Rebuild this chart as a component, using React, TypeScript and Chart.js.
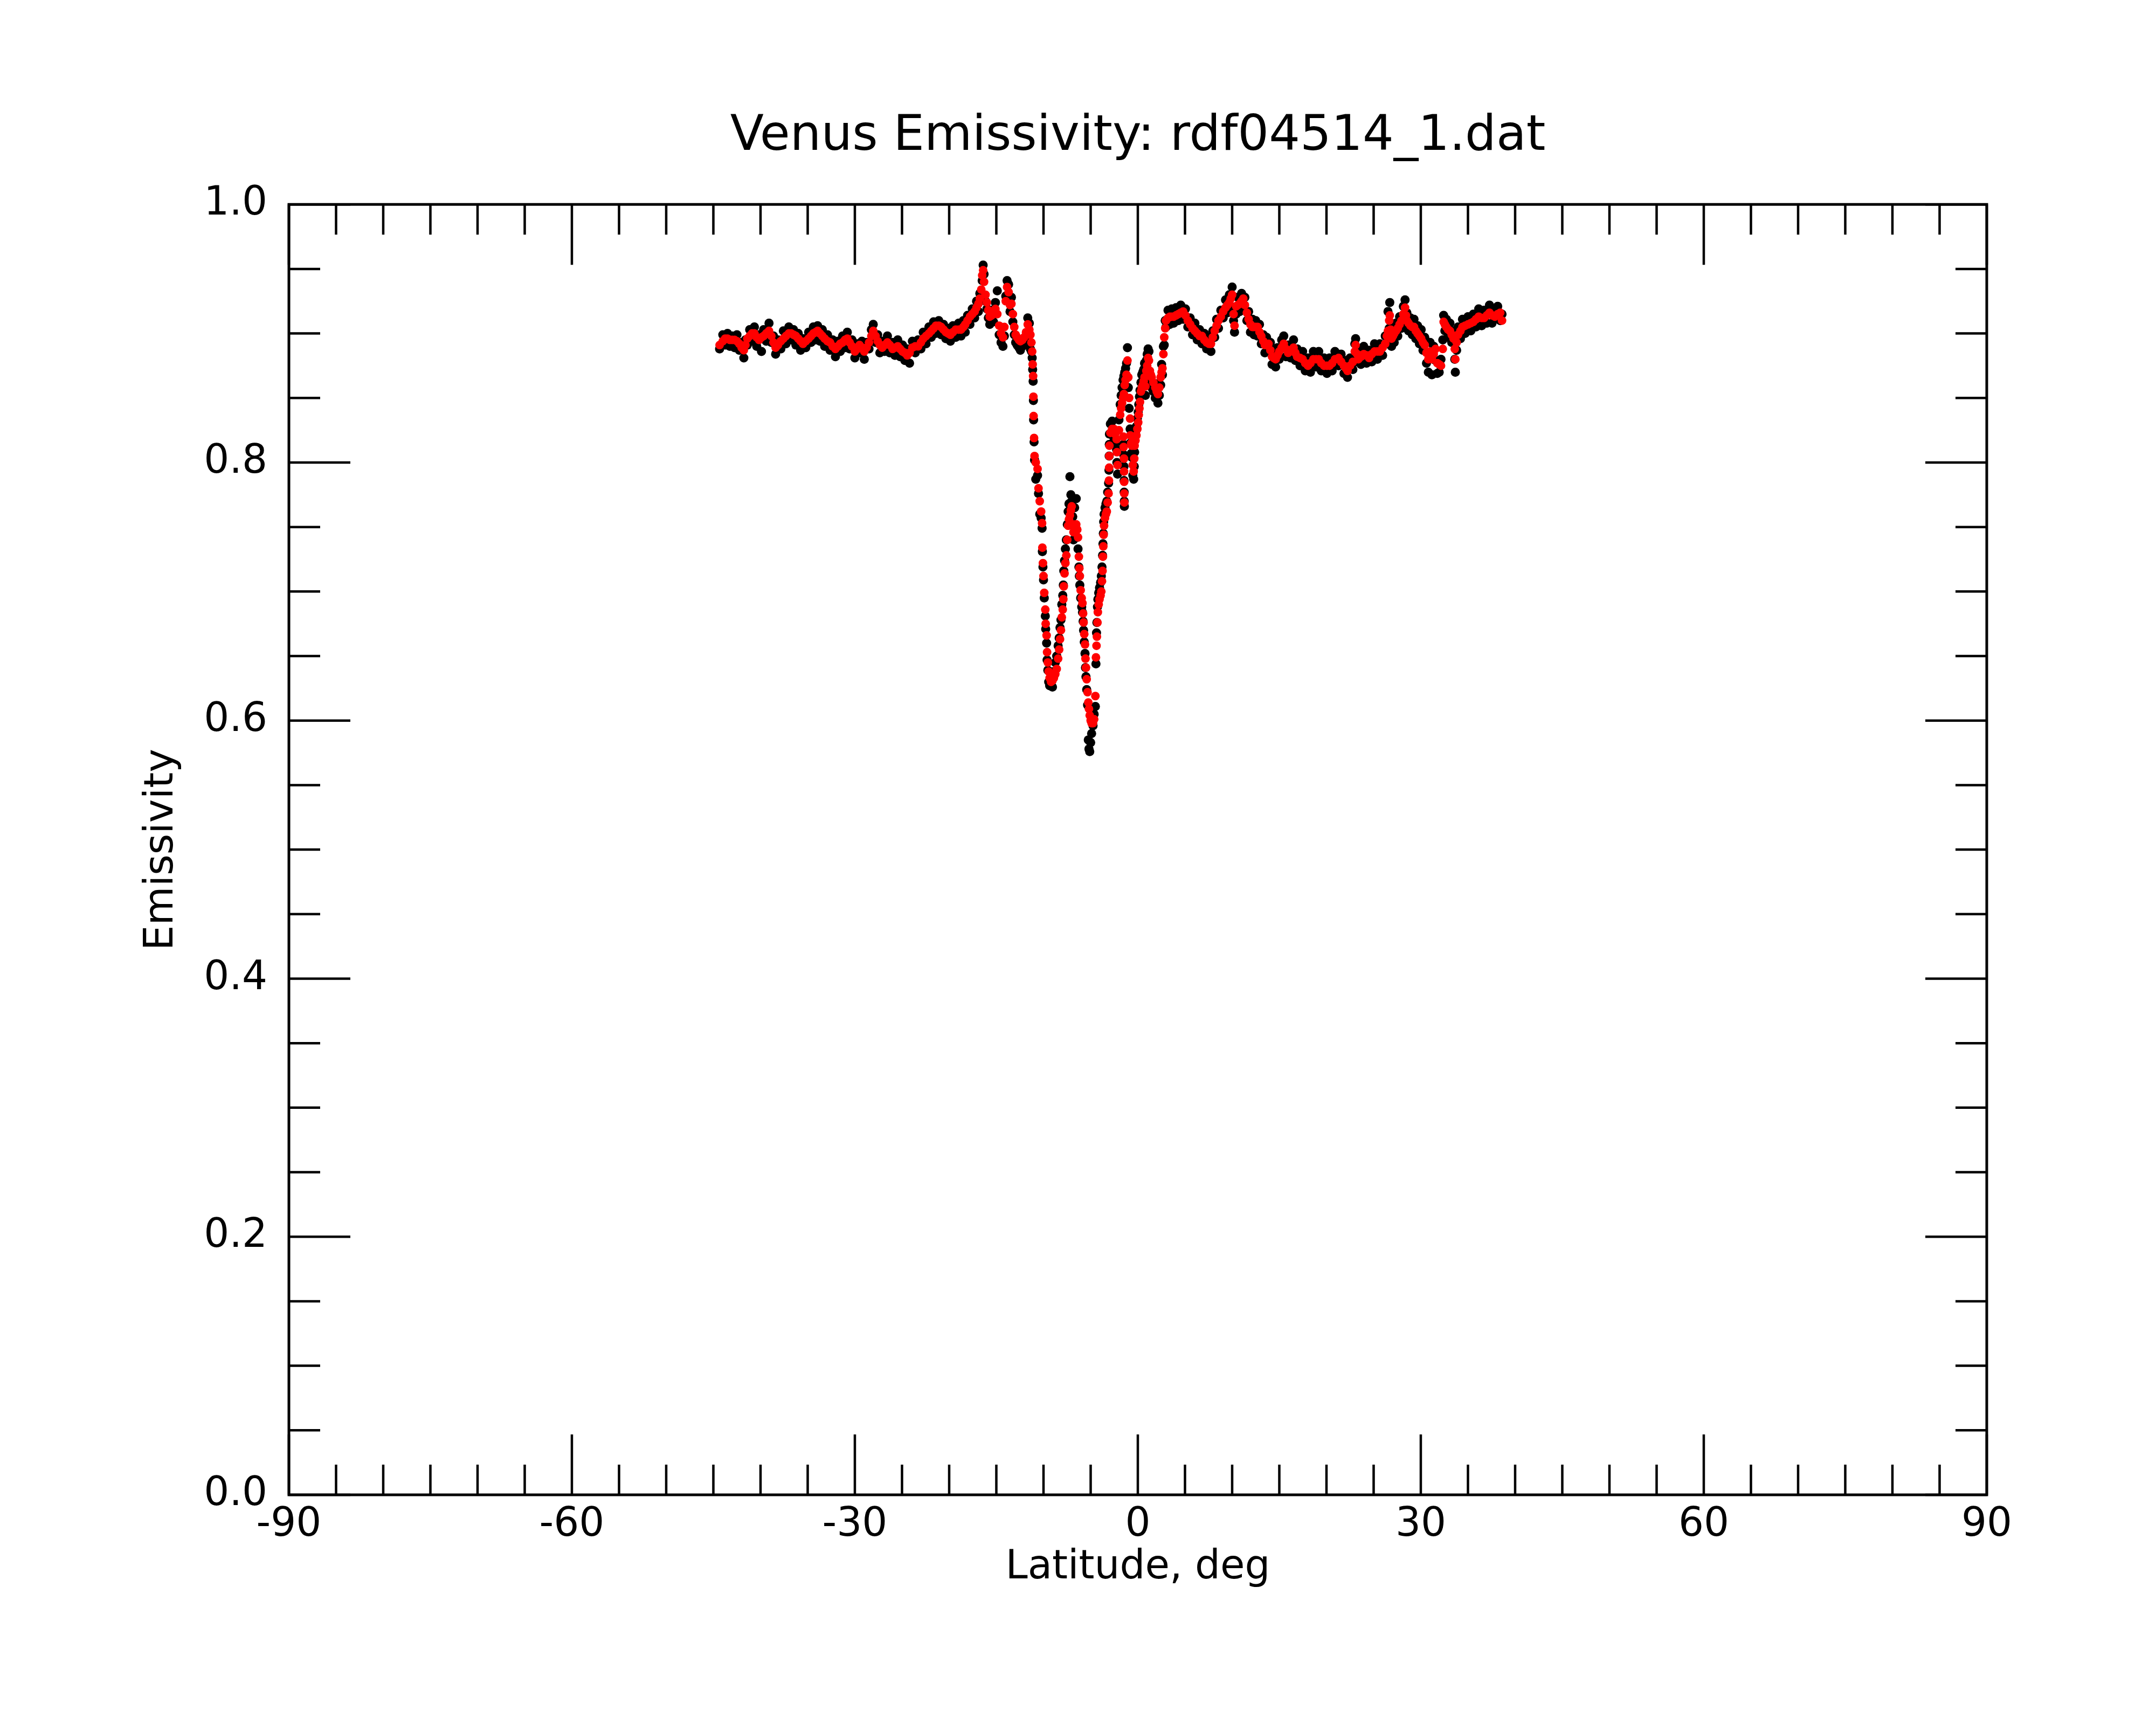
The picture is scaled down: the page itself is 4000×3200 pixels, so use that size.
import React, { useEffect, useRef } from 'react';
import { Chart, registerables } from 'chart.js';

Chart.register(...registerables);

// Latitude (deg) and emissivity, split in three stretches.
// "red" is the smoothed track, "black" the raw samples drawn underneath it.
const southLat = [
    -44.34, -44.0, -43.75, -43.5, -43.25, -43.0, -42.75, -42.5, -42.25, -42.0,
    -41.77, -41.6, -41.4, -41.15, -40.9, -40.65, -40.4, -40.15, -39.9, -39.67,
    -39.4, -39.1, -38.85, -38.63, -38.4, -38.15, -37.85, -37.58, -37.3, -37.0,
    -36.75, -36.5, -36.25, -36.0, -35.75, -35.5, -35.2, -34.9, -34.65, -34.4,
    -34.15, -33.95, -33.7, -33.45, -33.2, -32.9, -32.63, -32.35, -32.06, -31.8,
    -31.55, -31.3, -31.05, -30.8, -30.55, -30.3, -30.0, -29.75, -29.5, -29.25,
    -29.0, -28.75, -28.5, -28.25, -28.05, -27.8, -27.58, -27.35, -27.1, -26.85,
    -26.55, -26.3, -26.0, -25.75, -25.45, -25.2, -24.95, -24.7, -24.45, -24.2,
    -23.9, -23.6, -23.3, -23.0, -22.75, -22.45, -22.15, -21.9, -21.65, -21.4,
    -21.1, -20.85, -20.6, -20.35, -20.1, -19.87, -19.6, -19.3, -19.0, -18.75,
    -18.5, -18.3, -18.05, -17.8, -17.55, -17.3, -17.1, -16.9, -16.75, -16.6,
    -16.5, -16.4, -16.3, -16.15, -16.0, -15.85, -15.7, -15.5, -15.3, -15.1,
    -14.9, -14.7, -14.5, -14.3, -14.15, -14.0, -13.86, -13.7, -13.55, -13.4,
    -13.25, -13.1, -12.95, -12.8, -12.6, -12.45, -12.25, -12.05, -11.85, -11.67,
    -11.5,
];
const southRed = [
    0.891, 0.894, 0.896, 0.896, 0.895, 0.895, 0.895, 0.894, 0.892, 0.889,
    0.887, 0.891, 0.896, 0.898, 0.900, 0.900, 0.897, 0.895, 0.897, 0.898,
    0.900, 0.902, 0.898, 0.893, 0.889, 0.891, 0.894, 0.896, 0.898, 0.900,
    0.900, 0.899, 0.898, 0.896, 0.894, 0.892, 0.894, 0.896, 0.898, 0.900,
    0.901, 0.902, 0.900, 0.898, 0.896, 0.894, 0.893, 0.890, 0.888, 0.890,
    0.892, 0.893, 0.895, 0.896, 0.893, 0.890, 0.886, 0.888, 0.891, 0.889,
    0.886, 0.889, 0.893, 0.898, 0.902, 0.898, 0.894, 0.891, 0.889, 0.891,
    0.893, 0.891, 0.888, 0.889, 0.890, 0.888, 0.886, 0.885, 0.883, 0.885,
    0.889, 0.890, 0.890, 0.893, 0.896, 0.898, 0.900, 0.902, 0.904, 0.906,
    0.906, 0.905, 0.903, 0.901, 0.900, 0.899, 0.901, 0.903, 0.903, 0.903,
    0.905, 0.907, 0.910, 0.913, 0.915, 0.917, 0.920, 0.923, 0.927, 0.934,
    0.945, 0.949, 0.940, 0.930, 0.924, 0.918, 0.913, 0.914, 0.916, 0.919,
    0.915, 0.906, 0.900, 0.897, 0.905, 0.925, 0.936, 0.932, 0.922, 0.923,
    0.915, 0.905, 0.899, 0.897, 0.895, 0.894, 0.895, 0.897, 0.901, 0.907,
    0.903,
];
const southBlack = [
    0.888, 0.899, 0.891, 0.900, 0.890, 0.898, 0.889, 0.899, 0.887, 0.893,
    0.881, 0.895, 0.891, 0.903, 0.894, 0.905, 0.890, 0.899, 0.886, 0.903,
    0.894, 0.908, 0.893, 0.898, 0.884, 0.895, 0.888, 0.902, 0.892, 0.905,
    0.895, 0.903, 0.891, 0.900, 0.887, 0.896, 0.889, 0.901, 0.893, 0.905,
    0.895, 0.906, 0.894, 0.903, 0.890, 0.899, 0.887, 0.895, 0.882, 0.894,
    0.886, 0.898, 0.889, 0.901, 0.888, 0.895, 0.881, 0.892, 0.885, 0.894,
    0.880, 0.893, 0.888, 0.903, 0.907, 0.893, 0.899, 0.885, 0.894, 0.886,
    0.898, 0.885, 0.893, 0.883, 0.895, 0.882, 0.891, 0.879, 0.888, 0.877,
    0.894, 0.885, 0.895, 0.888, 0.901, 0.892, 0.905, 0.897, 0.909, 0.900,
    0.910, 0.899, 0.907, 0.896, 0.904, 0.894, 0.906, 0.897, 0.908, 0.898,
    0.910, 0.901, 0.914, 0.907, 0.919, 0.912, 0.925, 0.917, 0.931, 0.929,
    0.941, 0.953, 0.946, 0.925, 0.919, 0.912, 0.907, 0.918, 0.909, 0.924,
    0.933, 0.899, 0.893, 0.890, 0.898, 0.929, 0.941, 0.938, 0.917, 0.928,
    0.909, 0.899, 0.893, 0.891, 0.889, 0.887, 0.890, 0.891, 0.896, 0.912,
    0.908,
];

const troughLat = [
    -11.39, -11.28, -11.2, -11.15, -11.1, -11.07, -11.05, -11.0, -10.95, -10.82,
    -10.63, -10.53, -10.4, -10.25, -10.15, -10.12, -10.06, -10.0, -9.92, -9.81,
    -9.77, -9.67, -9.62, -9.54, -9.45, -9.35, -9.2, -9.05, -8.9, -8.75,
    -8.6, -8.45, -8.34, -8.25, -8.15, -8.06, -7.96, -7.9, -7.85, -7.77,
    -7.68, -7.58, -7.48, -7.39, -7.3, -7.2, -7.1, -7.01, -6.9, -6.82,
    -6.7, -6.53, -6.42, -6.34, -6.25, -6.2, -6.15, -6.06, -5.95, -5.87,
    -5.8, -5.75, -5.68, -5.6, -5.55, -5.5, -5.42, -5.33, -5.25, -5.18,
    -5.1, -5.0, -4.9, -4.75, -4.63, -4.5, -4.44, -4.38, -4.34, -4.28,
    -4.24, -4.15, -4.06, -3.95, -3.87, -3.8, -3.74, -3.7, -3.66, -3.62,
    -3.58, -3.48, -3.38, -3.29, -3.2, -3.1, -3.06, -3.04, -3.03, -3.01,
    -2.91, -2.72, -2.53, -2.4, -2.25, -2.22, -2.15, -2.0, -1.87, -1.77,
    -1.67, -1.57, -1.52, -1.5, -1.48, -1.47, -1.46, -1.45, -1.44, -1.43,
    -1.39, -1.3, -1.2, -1.1, -1.01, -0.92, -0.82, -0.8, -0.7, -0.63,
    -0.53, -0.44, -0.38, -0.34, -0.25, -0.15, -0.05, 0.04, 0.1, 0.17,
    0.23, 0.33, 0.42, 0.52, 0.62, 0.71, 0.8, 0.9, 0.99, 1.09,
    1.18, 1.28, 1.38, 1.47, 1.65, 1.85, 2.0, 2.13, 2.28, 2.42,
    2.52, 2.61, 2.71, 2.8, 2.9, 2.99,
];
const troughRed = [
    0.899, 0.893, 0.886, 0.876, 0.867, 0.851, 0.836, 0.819, 0.805, 0.800,
    0.795, 0.780, 0.770, 0.762, 0.753, 0.734, 0.722, 0.712, 0.699, 0.686,
    0.675, 0.666, 0.653, 0.645, 0.638, 0.633, 0.630, 0.631, 0.633, 0.636,
    0.640, 0.648, 0.655, 0.663, 0.670, 0.680, 0.686, 0.694, 0.704, 0.714,
    0.722, 0.728, 0.740, 0.751, 0.756, 0.759, 0.763, 0.766, 0.752, 0.746,
    0.749, 0.752, 0.748, 0.742, 0.727, 0.718, 0.712, 0.701, 0.695, 0.691,
    0.683, 0.676, 0.667, 0.659, 0.648, 0.641, 0.632, 0.622, 0.614, 0.609,
    0.604, 0.600, 0.598, 0.598, 0.601, 0.619, 0.649, 0.658, 0.665, 0.676,
    0.684, 0.690, 0.694, 0.697, 0.700, 0.708, 0.716, 0.727, 0.735, 0.744,
    0.751, 0.757, 0.760, 0.762, 0.769, 0.776, 0.786, 0.796, 0.805, 0.813,
    0.823, 0.826, 0.826, 0.822, 0.818, 0.808, 0.798, 0.825, 0.837, 0.842,
    0.846, 0.850, 0.820, 0.812, 0.853, 0.803, 0.793, 0.785, 0.776, 0.769,
    0.860, 0.864, 0.868, 0.879, 0.866, 0.850, 0.834, 0.821, 0.815, 0.813,
    0.798, 0.793, 0.803, 0.813, 0.817, 0.821, 0.826, 0.831, 0.837, 0.842,
    0.847, 0.855, 0.858, 0.860, 0.863, 0.866, 0.859, 0.871, 0.875, 0.881,
    0.879, 0.871, 0.868, 0.866, 0.862, 0.858, 0.855, 0.853, 0.858, 0.866,
    0.870, 0.873, 0.884, 0.897, 0.904, 0.910,
];
const troughBlack = [
    0.888, 0.886, 0.881, 0.872, 0.863, 0.848, 0.833, 0.816, 0.802, 0.787,
    0.790, 0.776, 0.760, 0.757, 0.749, 0.731, 0.719, 0.709, 0.695, 0.681,
    0.671, 0.660, 0.647, 0.639, 0.630, 0.627, 0.628, 0.626, 0.638, 0.645,
    0.650, 0.658, 0.664, 0.672, 0.678, 0.690, 0.697, 0.705, 0.716, 0.724,
    0.733, 0.740, 0.752, 0.762, 0.768, 0.789, 0.775, 0.770, 0.758, 0.740,
    0.765, 0.772, 0.742, 0.733, 0.719, 0.712, 0.705, 0.695, 0.688, 0.684,
    0.677, 0.670, 0.661, 0.652, 0.641, 0.634, 0.624, 0.612, 0.585, 0.578,
    0.576, 0.583, 0.590, 0.596, 0.605, 0.611, 0.644, 0.668, 0.676, 0.688,
    0.694, 0.699, 0.703, 0.707, 0.712, 0.719, 0.728, 0.737, 0.745, 0.754,
    0.760, 0.765, 0.768, 0.770, 0.777, 0.784, 0.794, 0.805, 0.814, 0.822,
    0.830, 0.832, 0.819, 0.815, 0.810, 0.800, 0.791, 0.833, 0.845, 0.852,
    0.858, 0.864, 0.814, 0.806, 0.867, 0.797, 0.786, 0.777, 0.770, 0.766,
    0.870, 0.873, 0.877, 0.889, 0.858, 0.842, 0.826, 0.815, 0.807, 0.804,
    0.790, 0.787, 0.797, 0.808, 0.823, 0.828, 0.834, 0.839, 0.845, 0.851,
    0.856, 0.862, 0.868, 0.870, 0.872, 0.877, 0.852, 0.879, 0.884, 0.888,
    0.886, 0.864, 0.861, 0.858, 0.855, 0.850, 0.861, 0.846, 0.852, 0.860,
    0.876, 0.868, 0.890, 0.891, 0.910, 0.905,
];

const northLat = [
    3.2, 3.4, 3.6, 3.8, 4.05, 4.3, 4.55, 4.8, 5.05, 5.3,
    5.55, 5.8, 6.05, 6.3, 6.55, 6.8, 7.05, 7.3, 7.55, 7.75,
    7.95, 8.15, 8.35, 8.55, 8.8, 9.05, 9.3, 9.5, 9.7, 9.85,
    10.0, 10.15, 10.25, 10.42, 10.6, 10.8, 11.0, 11.18, 11.35, 11.56,
    11.75, 11.94, 12.15, 12.32, 12.5, 12.7, 12.9, 13.09, 13.3, 13.47,
    13.65, 13.85, 14.05, 14.23, 14.42, 14.61, 14.8, 14.99, 15.25, 15.47,
    15.7, 15.94, 16.2, 16.51, 16.7, 16.89, 17.2, 17.47, 17.75, 18.04,
    18.3, 18.61, 18.9, 19.18, 19.45, 19.75, 20.05, 20.32, 20.6, 20.9,
    21.28, 21.55, 21.85, 22.05, 22.23, 22.5, 22.8, 23.0, 23.09, 23.25,
    23.37, 23.65, 23.95, 24.25, 24.52, 24.8, 25.09, 25.4, 25.66, 25.95,
    26.23, 26.4, 26.52, 26.65, 26.71, 26.8, 26.9, 27.05, 27.18, 27.37,
    27.56, 27.75, 27.95, 28.15, 28.33, 28.43, 28.52, 28.7, 28.9, 29.1,
    29.28, 29.47, 29.66, 29.85, 30.04, 30.23, 30.42, 30.6, 30.8, 30.99,
    31.18, 31.37, 31.56, 31.75, 31.95, 32.14, 32.33, 32.42, 32.55, 32.71,
    32.9, 33.09, 33.28, 33.47, 33.6, 33.66, 33.8, 33.95, 34.2, 34.42,
    34.7, 35.0, 35.3, 35.57, 35.85, 36.14, 36.45, 36.71, 37.0, 37.28,
    37.55, 37.85, 38.15, 38.42, 38.61,
];
const northRed = [
    0.912, 0.913, 0.913, 0.913, 0.914, 0.915, 0.916, 0.917, 0.914, 0.910,
    0.907, 0.904, 0.902, 0.900, 0.898, 0.898, 0.895, 0.893, 0.892, 0.892,
    0.897, 0.902, 0.906, 0.910, 0.913, 0.917, 0.920, 0.922, 0.924, 0.927,
    0.930, 0.915, 0.906, 0.921, 0.922, 0.923, 0.925, 0.927, 0.922, 0.916,
    0.911, 0.907, 0.905, 0.905, 0.905, 0.905, 0.901, 0.898, 0.894, 0.891,
    0.891, 0.892, 0.887, 0.882, 0.881, 0.880, 0.883, 0.886, 0.889, 0.892,
    0.888, 0.885, 0.887, 0.889, 0.885, 0.882, 0.881, 0.880, 0.877, 0.875,
    0.877, 0.880, 0.880, 0.880, 0.877, 0.875, 0.875, 0.875, 0.877, 0.880,
    0.881, 0.878, 0.875, 0.873, 0.871, 0.875, 0.878, 0.886, 0.891, 0.884,
    0.880, 0.882, 0.884, 0.883, 0.881, 0.884, 0.886, 0.886, 0.886, 0.889,
    0.892, 0.898, 0.902, 0.910, 0.914, 0.903, 0.896, 0.898, 0.900, 0.902,
    0.904, 0.907, 0.910, 0.915, 0.920, 0.914, 0.910, 0.908, 0.906, 0.905,
    0.905, 0.902, 0.900, 0.898, 0.896, 0.893, 0.891, 0.885, 0.880, 0.886,
    0.880, 0.884, 0.888, 0.877, 0.876, 0.875, 0.888, 0.909, 0.907, 0.905,
    0.903, 0.902, 0.899, 0.896, 0.888, 0.880, 0.893, 0.899, 0.902, 0.905,
    0.906, 0.907, 0.908, 0.909, 0.911, 0.913, 0.912, 0.912, 0.914, 0.916,
    0.914, 0.913, 0.915, 0.916, 0.910,
];
const northBlack = [
    0.918, 0.907, 0.919, 0.908, 0.920, 0.910, 0.922, 0.911, 0.919, 0.905,
    0.912, 0.899, 0.908, 0.895, 0.903, 0.892, 0.900, 0.888, 0.897, 0.886,
    0.902, 0.897, 0.911, 0.904, 0.918, 0.912, 0.926, 0.916, 0.930, 0.921,
    0.936, 0.910, 0.901, 0.915, 0.928, 0.917, 0.931, 0.921, 0.928, 0.910,
    0.917, 0.901, 0.911, 0.899, 0.910, 0.898, 0.907, 0.892, 0.899, 0.885,
    0.897, 0.886, 0.893, 0.876, 0.887, 0.874, 0.889, 0.880, 0.895, 0.898,
    0.882, 0.891, 0.881, 0.895, 0.879, 0.888, 0.875, 0.886, 0.871, 0.881,
    0.870, 0.886, 0.874, 0.886, 0.871, 0.881, 0.869, 0.881, 0.871, 0.886,
    0.875, 0.884, 0.869, 0.879, 0.866, 0.881, 0.872, 0.892, 0.896, 0.878,
    0.886, 0.876, 0.890, 0.877, 0.887, 0.878, 0.892, 0.880, 0.892, 0.883,
    0.898, 0.892, 0.917, 0.904, 0.924, 0.897, 0.890, 0.904, 0.893, 0.908,
    0.898, 0.913, 0.904, 0.921, 0.926, 0.908, 0.916, 0.902, 0.912, 0.899,
    0.911, 0.896, 0.906, 0.892, 0.903, 0.887, 0.897, 0.877, 0.870, 0.893,
    0.868, 0.890, 0.879, 0.869, 0.870, 0.880, 0.895, 0.914, 0.902, 0.911,
    0.897, 0.908, 0.893, 0.902, 0.880, 0.870, 0.887, 0.905, 0.896, 0.911,
    0.900, 0.913, 0.902, 0.915, 0.905, 0.919, 0.906, 0.918, 0.908, 0.922,
    0.908, 0.919, 0.921, 0.910, 0.915,
];

// axis setup
const xMin = -90;
const xMax = 90;
const xMajorStep = 30;
const xMinorStep = 5;
const yMin = 0;
const yMax = 1;
const yMajorStep = 0.2;
const yMinorStep = 0.05;

const FONT = 'DejaVu Sans';
const RED_R = 8;
const BLACK_R = 8.5;

const toPoints = (lats: number[], vals: number[]) => lats.map((x, i) => ({ x, y: vals[i] }));

// inward ticks on all four sides plus the box, like the IDL style plot
const frameTicks = {
    id: 'frameTicks',
    afterDatasetsDraw(chart: any) {
        const { ctx, chartArea: a, scales } = chart;
        const sx = scales.x;
        const sy = scales.y;
        ctx.save();
        ctx.strokeStyle = '#000';
        ctx.lineWidth = 4.5;
        ctx.beginPath();
        for (let i = 0; i <= Math.round((xMax - xMin) / xMinorStep); i++) {
            const v = xMin + i * xMinorStep;
            const px = sx.getPixelForValue(v);
            const len = Math.abs((v - xMin) % xMajorStep) < 1e-6 ? 112 : 56;
            ctx.moveTo(px, a.bottom);
            ctx.lineTo(px, a.bottom - len);
            ctx.moveTo(px, a.top);
            ctx.lineTo(px, a.top + len);
        }
        const nMinorY = Math.round((yMax - yMin) / yMinorStep);
        const perMajor = Math.round(yMajorStep / yMinorStep);
        for (let i = 0; i <= nMinorY; i++) {
            const v = yMin + i * yMinorStep;
            const py = sy.getPixelForValue(v);
            const len = i % perMajor === 0 ? 114 : 58;
            ctx.moveTo(a.left, py);
            ctx.lineTo(a.left + len, py);
            ctx.moveTo(a.right, py);
            ctx.lineTo(a.right - len, py);
        }
        ctx.stroke();
        ctx.lineWidth = 5;
        ctx.strokeRect(a.left, a.top, a.right - a.left, a.bottom - a.top);
        ctx.restore();
    },
};

export default function App() {
    const canvasRef = useRef<HTMLCanvasElement>(null);

    useEffect(() => {
        document.body.style.margin = '0';
        if (!canvasRef.current) return;

        const red = [
            ...toPoints(southLat, southRed),
            ...toPoints(troughLat, troughRed),
            ...toPoints(northLat, northRed),
        ];
        const black = [
            ...toPoints(southLat, southBlack),
            ...toPoints(troughLat, troughBlack),
            ...toPoints(northLat, northBlack),
        ];

        const chart = new Chart(canvasRef.current, {
            type: 'scatter',
            data: {
                datasets: [
                    {
                        label: 'smoothed',
                        data: red,
                        backgroundColor: '#ff0000',
                        pointBackgroundColor: '#ff0000',
                        radius: RED_R,
                        pointRadius: RED_R,
                        pointBorderWidth: 0,
                        borderWidth: 0,
                    } as any,
                    {
                        label: 'raw',
                        data: black,
                        backgroundColor: '#000000',
                        pointBackgroundColor: '#000000',
                        radius: BLACK_R,
                        pointRadius: BLACK_R,
                        pointBorderWidth: 0,
                        borderWidth: 0,
                    } as any,
                ],
            },
            options: {
                responsive: false,
                devicePixelRatio: 1,
                animation: false,
                elements: { point: { radius: RED_R, borderWidth: 0 } },
                layout: { padding: { top: 0, left: 0, right: 314, bottom: 0 } },
                plugins: {
                    legend: { display: false },
                    tooltip: { enabled: false },
                    title: {
                        display: true,
                        text: 'Venus Emissivity: rdf04514_1.dat',
                        fullSize: false,
                        color: '#000',
                        font: { family: FONT, size: 91, weight: 'normal' },
                        padding: { top: 200, bottom: 70 },
                    },
                },
                scales: {
                    x: {
                        type: 'linear',
                        min: xMin,
                        max: xMax,
                        grid: { display: false, drawTicks: false },
                        border: { display: false },
                        ticks: {
                            stepSize: xMajorStep,
                            autoSkip: false,
                            maxRotation: 0,
                            padding: 12,
                            color: '#000',
                            font: { family: FONT, size: 74 },
                        },
                        title: {
                            display: true,
                            text: 'Latitude, deg',
                            color: '#000',
                            font: { family: FONT, size: 74 },
                            padding: { top: 0, bottom: 247 },
                        },
                        afterFit: (scale: any) => {
                            scale.height = 427;
                        },
                    },
                    y: {
                        type: 'linear',
                        min: yMin,
                        max: yMax,
                        grid: { display: false, drawTicks: false },
                        border: { display: false },
                        ticks: {
                            stepSize: yMajorStep,
                            autoSkip: false,
                            padding: 40,
                            color: '#000',
                            font: { family: FONT, size: 74 },
                            callback: (v: any) => Number(v).toFixed(1),
                        },
                        title: {
                            display: true,
                            text: 'Emissivity',
                            color: '#000',
                            font: { family: FONT, size: 74 },
                            padding: { top: 256, bottom: 0 },
                        },
                        afterFit: (scale: any) => {
                            scale.width = 536;
                        },
                    },
                },
            },
            plugins: [frameTicks],
        });

        return () => chart.destroy();
    }, []);

    return (
        <div style={{ width: 4000, height: 3200, background: '#fff' }}>
            <canvas ref={canvasRef} width={4000} height={3200} />
        </div>
    );
}
